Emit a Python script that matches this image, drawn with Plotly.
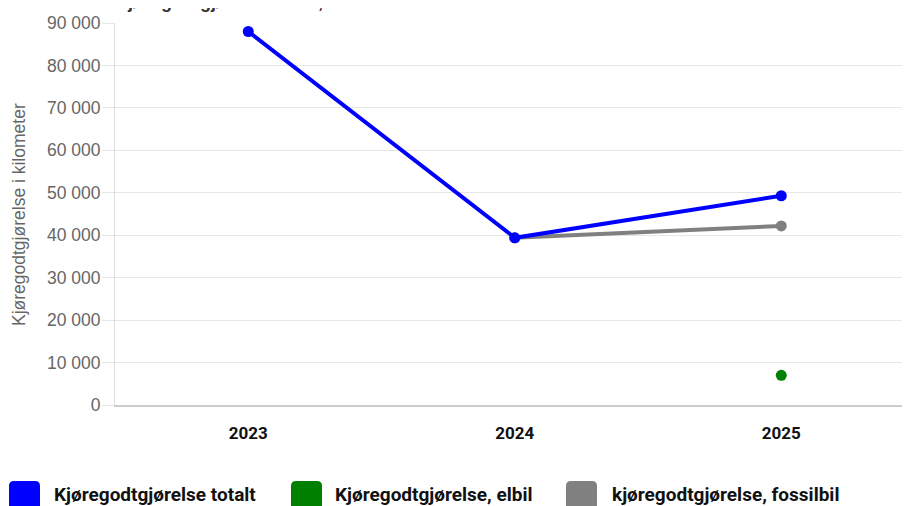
import plotly.graph_objects as go

years = ["2023", "2024", "2025"]
totalt = [88000, 39400, 49300]
elbil = [None, None, 7000]
fossilbil = [None, 39400, 42200]

series_names = ["Kjøregodtgjørelse totalt", "Kjøregodtgjørelse, elbil", "kjøregodtgjørelse, fossilbil"]
series_colors = ["#0000ff", "#008000", "#808080"]
title_text = "Kjøregodtgjørelse totalt, elbil vs fossilbil"
y_title = "Kjøregodtgjørelse i kilometer"
y_ticks = [0, 10000, 20000, 30000, 40000, 50000, 60000, 70000, 80000, 90000]

W, H = 910, 506
OFF = 8  # page body margin
L, R, T, B = 115 - OFF, 0, 23 - OFF, 101 + OFF
PW, PH = W - L - R, H - T - B

def px(x):
    # x given in visible page pixels
    return (x - OFF - L) / PW

def py(y):
    return (H - B - (y - OFF)) / PH

fig = go.Figure()
for vals, i in ((fossilbil, 2), (elbil, 1), (totalt, 0)):
    fig.add_trace(go.Scatter(x=years, y=vals, mode="lines+markers", name=series_names[i],
                             line=dict(color=series_colors[i], width=4),
                             marker=dict(size=11, color=series_colors[i]),
                             showlegend=False, cliponaxis=False))

fig.update_layout(
    width=W, height=H,
    margin=dict(l=L, r=R, t=T, b=B, autoexpand=False),
    plot_bgcolor="white", paper_bgcolor="white",
    separators=", ",
    font=dict(family="Liberation Sans, Arial, sans-serif"),
)
fig.update_xaxes(
    type="category", range=[-0.5, 2.513],
    showgrid=False, showline=True, linecolor="#cccccc", linewidth=2,
    ticks="", tickfont=dict(family="Roboto, sans-serif", size=17, color="#111111", weight="bold"),
    ticklabelstandoff=12,
)
fig.update_yaxes(
    range=[0, 90000], tickvals=y_ticks, tickformat=",d",
    showgrid=True, gridcolor="#e6e6e6", gridwidth=1,
    showline=True, linecolor="#dddddd", linewidth=1,
    ticks="outside", ticklen=12, tickcolor="#e6e6e6",
    ticklabelstandoff=-2,
    tickfont=dict(size=17.5, color="#666666"),
    zeroline=False,
)

# Y-axis title
fig.add_annotation(text=y_title, xref="paper", yref="paper", x=px(19), y=py(215),
                   xanchor="center", yanchor="middle", textangle=-90, showarrow=False,
                   font=dict(size=17.5, color="#666666"))

# Title, mostly cut off at the top of the page
fig.add_annotation(text=title_text, xref="paper", yref="paper", x=px(113), y=py(14),
                   xanchor="left", yanchor="bottom", showarrow=False,
                   font=dict(size=18, color="#333333", weight="bold"))

# Manual legend with rounded squares
leg_x = [9, 291, 566]
leg_tx = [52, 333, 610]
r = 5
for i, (nm, col) in enumerate(zip(series_names, series_colors)):
    x0, x1 = leg_x[i], leg_x[i] + 31
    y0, y1 = 481, 512
    path = (f"M {px(x0 + r)},{py(y0)} L {px(x1 - r)},{py(y0)} Q {px(x1)},{py(y0)} {px(x1)},{py(y0 + r)} "
            f"L {px(x1)},{py(y1 - r)} Q {px(x1)},{py(y1)} {px(x1 - r)},{py(y1)} "
            f"L {px(x0 + r)},{py(y1)} Q {px(x0)},{py(y1)} {px(x0)},{py(y1 - r)} "
            f"L {px(x0)},{py(y0 + r)} Q {px(x0)},{py(y0)} {px(x0 + r)},{py(y0)} Z")
    fig.add_shape(type="path", xref="paper", yref="paper", path=path,
                  fillcolor=col, line=dict(width=0), layer="above")
    fig.add_annotation(text=nm, xref="paper", yref="paper",
                       x=px(leg_tx[i]), y=py(494),
                       xanchor="left", yanchor="middle", showarrow=False,
                       font=dict(family="Roboto, sans-serif", size=19, color="#111111", weight="bold"))

fig.write_html("out.html")
